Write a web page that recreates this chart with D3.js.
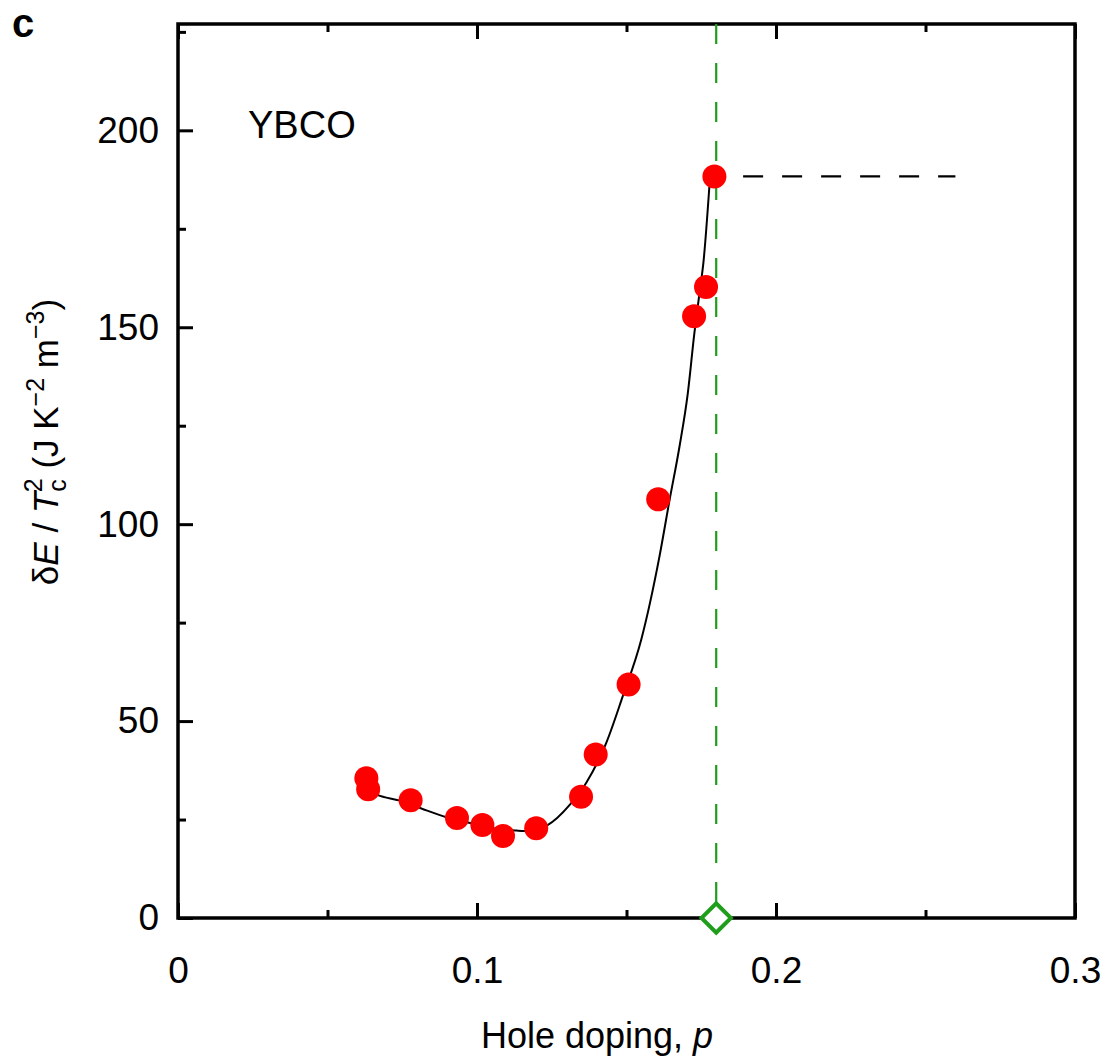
<!DOCTYPE html>
<html>
<head>
<meta charset="utf-8">
<script src="https://cdn.jsdelivr.net/npm/d3@7"></script>
<style>
  body { margin: 0; background: #fff; }
  text { font-family: "Liberation Sans", Arial, Helvetica, sans-serif; }
</style>
</head>
<body>
<div id="chart"></div>
<script>
// measured points (hole doping p, dE/Tc^2)
const dopingP = [0.0630, 0.0636, 0.0778, 0.0933, 0.1018, 0.1087, 0.1198, 0.1348, 0.1397, 0.1507, 0.1606, 0.1726, 0.1766, 0.1794];
const energyV = [35.5, 32.7, 29.9, 25.4, 23.6, 20.8, 22.8, 30.8, 41.5, 59.3, 106.3, 152.8, 160.2, 188.3];

// guide-to-the-eye curve
const curveP = [0.0636, 0.0668, 0.0742, 0.0814, 0.0898, 0.0990, 0.1060, 0.1132, 0.1159, 0.1236, 0.1310, 0.1365, 0.1432, 0.1487, 0.1549, 0.1610, 0.1644, 0.1677, 0.1705, 0.1727, 0.1744, 0.1758, 0.1777];
const curveV = [32.3, 31.2, 29.8, 27.8, 25.6, 23.9, 22.7, 22.2, 22.1, 23.6, 28.7, 34.3, 44.4, 56.2, 70.6, 91.7, 106.1, 119.6, 133.2, 148.5, 158.6, 167.0, 185.6];

const xMajor = [0, 0.1, 0.2, 0.3];
const xMinor = [0.05, 0.15, 0.25];
const yMajor = [0, 50, 100, 150, 200];
const yMinor = [25, 75, 125, 175, 225];

const pStar = 0.18;           // green marker
const plateau = [0.189, 0.26]; // black dashed line extent
const plateauV = 188.3;

const width = 1107, height = 1058;
const margin = { top: 24, right: 32, bottom: 140, left: 178 };

const svg = d3.select('#chart')
    .append('svg')
    .attr('width', width)
    .attr('height', height);

const xScale = d3.scaleLinear()
    .domain([0, 0.3])
    .range([margin.left, width - margin.right]);

const yScale = d3.scaleLinear()
    .domain([0, 227])
    .range([height - margin.bottom, margin.top]);

const green = '#1f9e1c';

// axes
const xAxis = d3.axisBottom(xScale)
    .tickValues(xMajor)
    .tickFormat(d => d === 0 ? '0' : d3.format('.1f')(d))
    .tickSizeInner(-15).tickSizeOuter(0).tickPadding(39);

const xAxisMinor = d3.axisBottom(xScale)
    .tickValues(xMinor).tickFormat('')
    .tickSizeInner(-8).tickSizeOuter(0);

const xTop = d3.axisTop(xScale)
    .tickValues(xMajor).tickFormat('')
    .tickSizeInner(-15).tickSizeOuter(0);

const xTopMinor = d3.axisTop(xScale)
    .tickValues(xMinor).tickFormat('')
    .tickSizeInner(-8).tickSizeOuter(0);

const yAxis = d3.axisLeft(yScale)
    .tickValues(yMajor)
    .tickSizeInner(-15).tickSizeOuter(0).tickPadding(19);

const yAxisMinor = d3.axisLeft(yScale)
    .tickValues(yMinor).tickFormat('')
    .tickSizeInner(-8).tickSizeOuter(0);

const axisGroup = svg.append('g').attr('id', 'axisGroup');
const y0 = yScale(0);

axisGroup.append('g').attr('transform', `translate(0, ${y0})`).call(xAxis);
axisGroup.append('g').attr('transform', `translate(0, ${y0})`).call(xAxisMinor);
axisGroup.append('g').attr('transform', `translate(0, ${margin.top})`).call(xTop);
axisGroup.append('g').attr('transform', `translate(0, ${margin.top})`).call(xTopMinor);
axisGroup.append('g').attr('transform', `translate(${margin.left}, 0)`).call(yAxis);
axisGroup.append('g').attr('transform', `translate(${margin.left}, 0)`).call(yAxisMinor);

axisGroup.selectAll('.domain').remove();
axisGroup.selectAll('.tick line').attr('stroke', '#000').attr('stroke-width', 3);
axisGroup.selectAll('.tick text')
    .attr('fill', '#000')
    .style('font-size', '37px')
    .style('font-family', '"Liberation Sans", Arial, sans-serif');

// frame
svg.append('rect')
    .attr('x', xScale(0))
    .attr('y', yScale(227))
    .attr('width', xScale(0.3) - xScale(0))
    .attr('height', yScale(0) - yScale(227))
    .attr('fill', 'none')
    .attr('stroke', '#000')
    .attr('stroke-width', 3.5);

const elementGroup = svg.append('g').attr('id', 'elementGroup');

// green dashed vertical line at p*
elementGroup.append('line')
    .attr('x1', xScale(pStar)).attr('x2', xScale(pStar))
    .attr('y1', yScale(227)).attr('y2', yScale(0))
    .attr('stroke', green)
    .attr('stroke-width', 2.2)
    .attr('stroke-dasharray', '20 19');

// black dashed horizontal line
elementGroup.append('line')
    .attr('x1', xScale(plateau[0])).attr('x2', xScale(plateau[1]))
    .attr('y1', yScale(plateauV)).attr('y2', yScale(plateauV))
    .attr('stroke', '#000')
    .attr('stroke-width', 2.2)
    .attr('stroke-dasharray', '20 19');

// fit curve
const curveData = curveP.map((p, i) => ({ p: p, v: curveV[i] }));
const line = d3.line()
    .x(d => xScale(d.p))
    .y(d => yScale(d.v))
    .curve(d3.curveMonotoneX);

elementGroup.append('path')
    .datum(curveData)
    .attr('fill', 'none')
    .attr('stroke', '#000')
    .attr('stroke-width', 2)
    .attr('d', line);

// data points
const points = dopingP.map((p, i) => ({ p: p, v: energyV[i] }));
elementGroup.selectAll('circle.pt')
    .data(points)
    .enter()
    .append('circle')
    .attr('class', 'pt')
    .attr('cx', d => xScale(d.p))
    .attr('cy', d => yScale(d.v))
    .attr('r', 12)
    .attr('fill', '#ff0000');

// open green diamond on the axis
elementGroup.append('path')
    .attr('d', d3.symbol().type(d3.symbolSquare).size(430)())
    .attr('transform', `translate(${xScale(pStar)}, ${yScale(0)}) rotate(45)`)
    .attr('fill', '#fff')
    .attr('stroke', green)
    .attr('stroke-width', 4);

// labels
svg.append('text')
    .attr('x', 248).attr('y', 138)
    .style('font-size', '38px')
    .text('YBCO');

svg.append('text')
    .attr('x', 12).attr('y', 37)
    .style('font-size', '40px')
    .style('font-weight', 'bold')
    .text('c');

svg.append('text')
    .attr('x', 597)
    .attr('y', 1048)
    .attr('text-anchor', 'middle')
    .style('font-size', '36px')
    .html('Hole doping, <tspan font-style="italic">p</tspan>');

const yTitle = svg.append('text')
    .attr('transform', 'translate(58, 442) rotate(-90)')
    .attr('text-anchor', 'middle')
    .style('font-size', '35px');

yTitle.append('tspan').text('\u03b4');
yTitle.append('tspan').attr('font-style', 'italic').text('E');
yTitle.append('tspan').text(' / ');
yTitle.append('tspan').attr('font-style', 'italic').text('T');
yTitle.append('tspan').attr('dy', 8).style('font-size', '25px').text('c');
yTitle.append('tspan').attr('dx', -13).attr('dy', -24).style('font-size', '25px').text('2');
yTitle.append('tspan').attr('dy', 16).text(' (J K');
yTitle.append('tspan').attr('dy', -14).style('font-size', '25px').text('\u22122');
yTitle.append('tspan').attr('dy', 14).text(' m');
yTitle.append('tspan').attr('dy', -14).style('font-size', '25px').text('\u22123');
yTitle.append('tspan').attr('dy', 14).text(')');
</script>
</body>
</html>
